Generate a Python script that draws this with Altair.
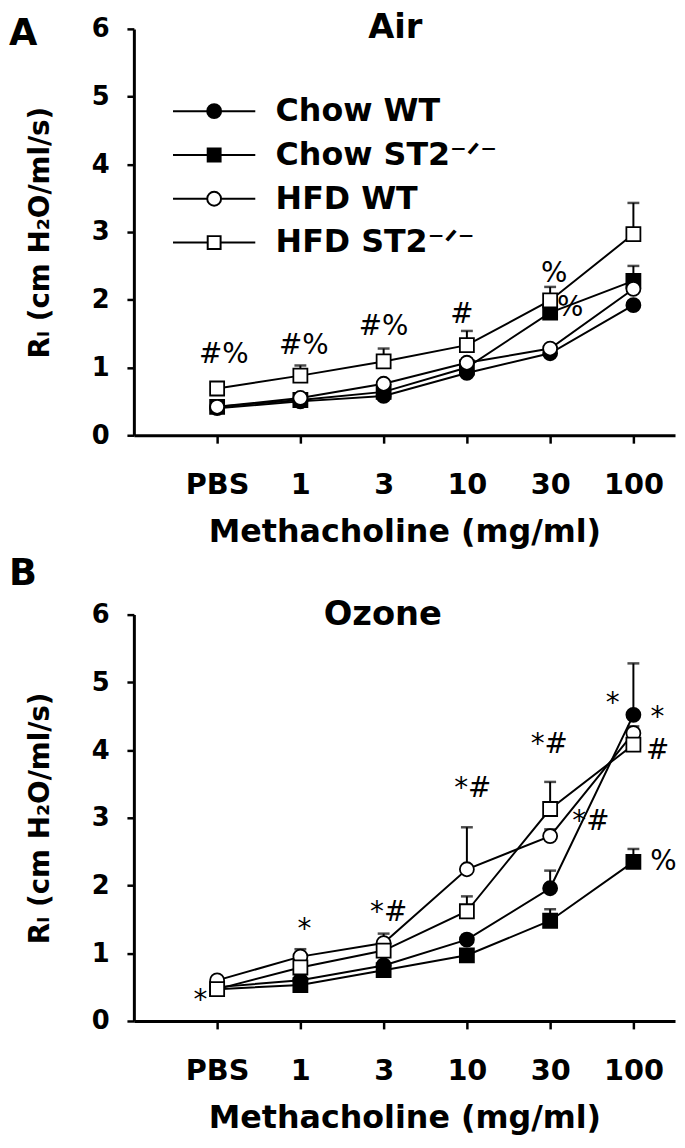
import json
import altair as alt
import pandas as pd

FONT = "DejaVu Sans"

# ---------------- data ----------------
doses = ["PBS", "1", "3", "10", "30", "100"]
series = ["Chow WT", "Chow ST2\u207b\u141f\u207b", "HFD WT", "HFD ST2\u207b\u141f\u207b"]
marker_shapes = ["circle", "square", "circle", "square"]
marker_fills = ["black", "black", "white", "white"]
draw_order = [1, 0, 2, 3]

# Air panel (mean, upper SEM)
air_chow_wt = [0.40, 0.50, 0.58, 0.92, 1.21, 1.92]
air_chow_wt_err = [0.03, 0.03, 0.03, 0.04, 0.04, 0.06]
air_chow_st2 = [0.42, 0.52, 0.64, 1.00, 1.81, 2.28]
air_chow_st2_err = [0.03, 0.03, 0.04, 0.05, 0.08, 0.22]
air_hfd_wt = [0.42, 0.55, 0.76, 1.07, 1.28, 2.16]
air_hfd_wt_err = [0.04, 0.04, 0.05, 0.06, 0.04, 0.10]
air_hfd_st2 = [0.69, 0.88, 1.09, 1.33, 1.99, 2.97]
air_hfd_st2_err = [0.08, 0.15, 0.19, 0.21, 0.20, 0.46]

# Ozone panel
oz_chow_wt = [0.50, 0.60, 0.82, 1.20, 1.96, 4.52]
oz_chow_wt_err = [0.03, 0.04, 0.05, 0.07, 0.26, 0.76]
oz_chow_st2 = [0.47, 0.53, 0.75, 0.97, 1.48, 2.35]
oz_chow_st2_err = [0.03, 0.03, 0.04, 0.05, 0.17, 0.19]
oz_hfd_wt = [0.60, 0.95, 1.15, 2.24, 2.73, 4.25]
oz_hfd_wt_err = [0.04, 0.11, 0.14, 0.62, 0.10, 0.10]
oz_hfd_st2 = [0.47, 0.79, 1.04, 1.62, 3.13, 4.08]
oz_hfd_st2_err = [0.05, 0.10, 0.12, 0.22, 0.40, 0.10]

# significance annotations (text, x position in dose index units, y in R_L units)
air_ann_text = ["#%", "#%", "#%", "#", "%", "%"]
air_ann_x = [0.08, 1.04, 2.0, 2.94, 4.05, 4.24]
air_ann_y = [1.18, 1.31, 1.60, 1.77, 2.38, 1.88]

oz_ann_text = ["*", "*", "*#", "*#", "*#", "*#", "*", "*", "#", "%"]
oz_ann_x = [-0.2, 1.05, 2.06, 3.07, 3.99, 4.49, 4.75, 5.29, 5.29, 5.36]
oz_ann_y = [0.30, 1.34, 1.59, 3.42, 4.08, 2.93, 4.68, 4.47, 3.98, 2.34]

# panel titles (text, x in dose index units, baseline y in R_L units)
air_title = ("Air", 2.14, 5.868)
oz_title = ("Ozone", 1.99, 5.854)

# legend symbols: line through marker
legend_paths = [
    "M-8.3,0H-1.4M1.4,0H8.3M-1.4,0A1.4,1.4,0,1,0,1.4,0A1.4,1.4,0,1,0,-1.4,0Z",
    "M-8.3,0H-1.3M1.3,0H8.3M-1.3,-1.3H1.3V1.3H-1.3Z",
    "M-8.3,0H-1.4M1.4,0H8.3M-1.4,0A1.4,1.4,0,1,0,1.4,0A1.4,1.4,0,1,0,-1.4,0Z",
    "M-8.3,0H-1.3M1.3,0H8.3M-1.3,-1.3H1.3V1.3H-1.3Z",
]

W, H = 546, 410
Y_TITLE = "R\u2097 (cm H\u2082O/ml/s)"


def make_df(means, errs):
    rows = []
    for s, m, e in zip(series, means, errs):
        for i, d in enumerate(doses):
            rows.append({"series": s, "idx": i, "dose": d, "y": m[i], "top": m[i] + e[i]})
    return pd.DataFrame(rows)


def x_enc(field="idx"):
    return alt.X(
        f"{field}:Q",
        scale=alt.Scale(domain=[-1, 5.5], nice=False, zero=False),
        axis=alt.Axis(values=list(range(len(doses))),
                      labelExpr=f"{json.dumps(doses)}[datum.value]",
                      title="Methacholine (mg/ml)"),
    )


def y_enc(field="y"):
    return alt.Y(
        f"{field}:Q",
        scale=alt.Scale(domain=[0, 6], nice=False, zero=True),
        axis=alt.Axis(values=[0, 1, 2, 3, 4, 5, 6], title=Y_TITLE),
    )


def panel(means, errs, ann_text, ann_x, ann_y, title, letter, letter_y, with_legend):
    df = make_df(means, errs)
    base = alt.Chart(df)
    lines = base.mark_line(color="black", strokeWidth=2).encode(
        x=x_enc(), y=y_enc(), detail="series:N", order="idx:Q")
    err_rule = base.mark_rule(color="black", strokeWidth=2).encode(
        x=x_enc(), y=y_enc(), y2="top:Q")
    err_cap = base.mark_tick(color="black", orient="horizontal", size=12, thickness=2.5).encode(
        x=x_enc(), y=y_enc("top"))
    layers = [lines, err_rule, err_cap]
    for k in draw_order:
        layers.append(
            base.transform_filter(alt.FieldEqualPredicate(field="series", equal=series[k]))
            .mark_point(shape=marker_shapes[k], filled=True, fill=marker_fills[k], stroke="black",
                        strokeWidth=1.8, size=200, opacity=1)
            .encode(x=x_enc(), y=y_enc())
        )
    ann_df = pd.DataFrame({"t": ann_text, "idx": ann_x, "y": ann_y})
    layers.append(
        alt.Chart(ann_df).mark_text(font=FONT, fontSize=28, color="black",
                                    align="center", baseline="middle")
        .encode(x=x_enc(), y=y_enc(), text="t:N")
    )
    title_df = pd.DataFrame({"t": [title[0]], "idx": [title[1]], "y": [title[2]]})
    layers.append(
        alt.Chart(title_df).mark_text(font=FONT, fontSize=34, fontWeight="bold", color="black",
                                      align="center", baseline="alphabetic")
        .encode(x=x_enc(), y=y_enc(), text="t:N")
    )
    letter_df = pd.DataFrame({"t": [letter]})
    layers.append(
        alt.Chart(letter_df).mark_text(font=FONT, fontSize=37, fontWeight="bold", color="black",
                                       align="left", baseline="alphabetic")
        .encode(x=alt.value(-126), y=alt.value(letter_y), text="t:N")
    )
    if with_legend:
        leg_df = pd.DataFrame({"series": series})
        legend = alt.Legend(orient="none", legendX=65, legendY=67, title=None,
                            labelFont=FONT, labelFontSize=32, labelFontWeight="bold",
                            labelColor="black", labelLimit=0, symbolSize=100,
                            symbolStrokeWidth=2, symbolStrokeColor="black",
                            symbolOpacity=1, labelOffset=46, rowPadding=12.2)
        layers.append(
            alt.Chart(leg_df).mark_point(filled=True, stroke="black", strokeWidth=2, size=100,
                                         opacity=1, clip=True)
            .encode(
                x=alt.value(-400), y=alt.value(-400),
                shape=alt.Shape("series:N", scale=alt.Scale(domain=series, range=legend_paths),
                                legend=legend),
                fill=alt.Fill("series:N", scale=alt.Scale(domain=series, range=marker_fills),
                              legend=legend),
                stroke=alt.Stroke("series:N",
                                  scale=alt.Scale(domain=series, range=["black"] * 4),
                                  legend=legend),
            )
        )
    return alt.layer(*layers).properties(width=W, height=H)


pa = panel([air_chow_wt, air_chow_st2, air_hfd_wt, air_hfd_st2],
           [air_chow_wt_err, air_chow_st2_err, air_hfd_wt_err, air_hfd_st2_err],
           air_ann_text, air_ann_x, air_ann_y, air_title, "A", 16, True)
pb = panel([oz_chow_wt, oz_chow_st2, oz_hfd_wt, oz_hfd_st2],
           [oz_chow_wt_err, oz_chow_st2_err, oz_hfd_wt_err, oz_hfd_st2_err],
           oz_ann_text, oz_ann_x, oz_ann_y, oz_title, "B", -30, False)

chart = (
    alt.vconcat(pa, pb, spacing=181, bounds="flush")
    .properties(padding={"left": 1, "top": -2, "right": 0, "bottom": 0}, background="white")
    .configure_view(stroke=None)
    .configure_axis(domainColor="black", domainWidth=3, tickColor="black", tickWidth=2.5,
                    labelColor="black", labelFont=FONT, labelFontWeight="bold",
                    titleColor="black", titleFont=FONT, titleFontWeight="bold", grid=False)
    .configure_axisX(labelFontSize=29, tickSize=8, labelPadding=28, titleFontSize=32,
                     titlePadding=17)
    .configure_axisY(labelFontSize=26, tickSize=7, labelPadding=18, titleFontSize=28,
                     titlePadding=37)
)

chart.save("out.html", embed_options={"renderer": "svg", "actions": False})
